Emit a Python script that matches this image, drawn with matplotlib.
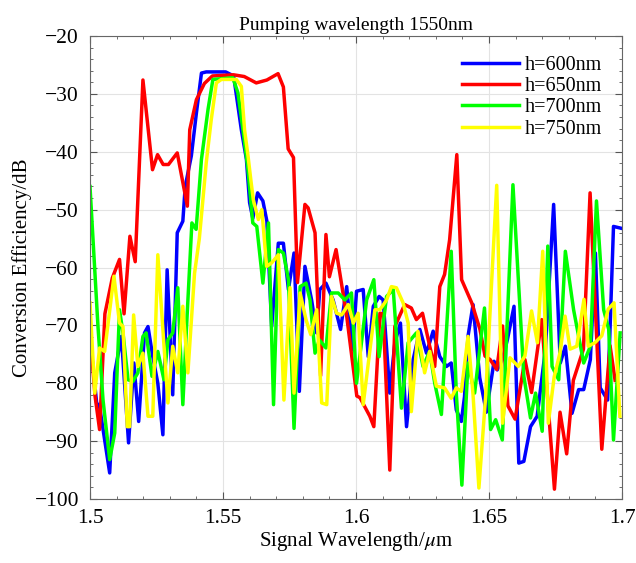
import matplotlib
matplotlib.use('Agg')
import matplotlib.pyplot as plt
from matplotlib.ticker import MultipleLocator

plt.rcParams['font.family'] = ['Liberation Serif', 'DejaVu Serif']
plt.rcParams['mathtext.fontset'] = 'stix'

# values, wavelength in um, efficiency in dB
x_600 = [1.500, 1.5025, 1.5036, 1.5074, 1.5093, 1.5118, 1.5145, 1.5165, 1.5183, 1.5205,
         1.5218, 1.5236, 1.5255, 1.5274, 1.529, 1.5311, 1.5328, 1.5349, 1.5358, 1.5381,
         1.540, 1.5419, 1.5437, 1.551, 1.554, 1.5569, 1.5588, 1.560, 1.5612, 1.563,
         1.565, 1.5665, 1.5683, 1.5708, 1.5727, 1.5746, 1.5767, 1.5787, 1.5808, 1.5833,
         1.5852, 1.5864, 1.5887, 1.5914, 1.5942, 1.5965, 1.5987, 1.6002, 1.6027, 1.6046,
         1.6065, 1.6087, 1.6102, 1.6127, 1.6146, 1.6167, 1.619, 1.6215, 1.624, 1.6265,
         1.629, 1.6315, 1.634, 1.6358, 1.6377, 1.6396, 1.6408, 1.6421, 1.644, 1.6465,
         1.649, 1.6519, 1.6531, 1.655, 1.6569, 1.6594, 1.6612, 1.6631, 1.6656, 1.6681,
         1.6712, 1.6743, 1.6768, 1.6787, 1.6812, 1.6837, 1.6856, 1.6881, 1.690, 1.6918,
         1.6946, 1.6968, 1.6995]
y_600 = [-72, -83.4, -84, -95.5, -78.2, -71.9, -90.3, -76.5, -86.6, -71.3,
         -70.2, -75.4, -80, -88.9, -60.4, -82, -54, -52, -46, -40.7,
         -33.3, -26.4, -26.2, -26.2, -26.9, -36.2, -41.3, -48.8, -51.5, -47.1,
         -48.5, -52, -70.2, -55.8, -55.8, -63.8, -57.5, -81.4, -59.8, -65.6,
         -71.3, -63.8, -62.7, -65.6, -70.7, -63.3, -74.2, -64.1, -63.8, -75.4,
         -66.7, -65, -65.6, -81.7, -73, -69.6, -87.5, -75.9, -70.7, -74.8,
         -71, -75.4, -77.1, -76.5, -84.6, -86.6, -82.3, -71.9, -66.4, -79,
         -85, -76.2, -77.7, -75.9, -72.5, -66.7, -93.8, -93.5, -87.5, -85.7,
         -74.2, -49.1, -76.5, -73.6, -85.2, -81.1, -81.1, -75.9, -57.5, -80.8,
         -82.9, -52.9, -53.2]

x_650 = [1.500, 1.5019, 1.5036, 1.5056, 1.5084, 1.5111, 1.5128, 1.515, 1.517, 1.5199,
         1.5235, 1.5254, 1.5275, 1.5295, 1.5328, 1.5366, 1.5375, 1.540, 1.543, 1.546,
         1.554, 1.558, 1.5625, 1.5665, 1.5707, 1.5727, 1.5745, 1.5765, 1.578, 1.5808,
         1.582, 1.5846, 1.5867, 1.5887, 1.590, 1.5925, 1.5965, 1.6003, 1.6015, 1.6052,
         1.6067, 1.609, 1.6102, 1.6127, 1.6146, 1.6183, 1.6208, 1.6227, 1.625, 1.6277,
         1.6296, 1.6315, 1.6333, 1.6352, 1.6379, 1.6397, 1.6435, 1.6466, 1.6485, 1.6504,
         1.6529, 1.6551, 1.6571, 1.6598, 1.6635, 1.666, 1.6698, 1.6746, 1.6767, 1.6792,
         1.6817, 1.6855, 1.688, 1.6924, 1.6955, 1.6974]
y_650 = [-71, -82.2, -88, -68, -61.8, -58.6, -68, -54.6, -59, -27.6,
         -43.1, -40.5, -42.2, -42.2, -40.2, -49.4, -36.2, -31, -28.2, -26.9,
         -26.7, -27, -28.1, -27.6, -26.5, -28.8, -39.5, -41, -62.6, -49.1,
         -49.7, -54, -78.7, -54.3, -61.6, -56.9, -68.4, -82.2, -82.5, -85.7,
         -87.5, -67.9, -68, -95, -70.2, -66.4, -67, -69, -67.9, -73.6,
         -77.1, -63.3, -61.2, -55.2, -40.5, -62.1, -66.1, -70.7, -75.3, -75.9,
         -77.6, -70.1, -83.9, -86.2, -75.9, -81.6, -69, -98.3, -85, -92.2,
         -79.5, -74.1, -47.1, -91.4, -73.5, -79.5]

x_700 = [1.500, 1.5005, 1.503, 1.5049, 1.5074, 1.5093, 1.5111, 1.5124, 1.5143, 1.5161,
         1.518, 1.5199, 1.5211, 1.5233, 1.5255, 1.5278, 1.5293, 1.5311, 1.533, 1.5349,
         1.5365, 1.5383, 1.5399, 1.5419, 1.5444, 1.5462, 1.5537, 1.5556, 1.5575, 1.5594,
         1.5612, 1.5627, 1.565, 1.5671, 1.569, 1.5708, 1.5727, 1.5746, 1.5767, 1.579,
         1.5812, 1.5827, 1.5846, 1.5862, 1.5887, 1.5908, 1.5933, 1.5958, 1.5983, 1.6002,
         1.604, 1.6067, 1.6087, 1.6115, 1.614, 1.6171, 1.6196, 1.6227, 1.6252, 1.6277,
         1.6296, 1.6321, 1.6358, 1.6377, 1.6398, 1.6421, 1.6446, 1.6483, 1.6506, 1.6525,
         1.655, 1.659, 1.6631, 1.6656, 1.6675, 1.670, 1.6721, 1.6737, 1.6762, 1.6787,
         1.6818, 1.6856, 1.6881, 1.6904, 1.6931, 1.695, 1.6968, 1.6993]
y_700 = [-46, -50, -70.2, -82.9, -93.2, -88.6, -67.3, -71.3, -79.4, -79.7,
         -78.2, -71.9, -71.3, -78.8, -74.5, -79.4, -72.5, -71.3, -63.5, -83.7,
         -68.4, -52.3, -53.4, -41.3, -32.6, -27.5, -27.2, -29.8, -36.2, -43.1,
         -52.3, -52.9, -62.7, -52.3, -83.7, -56.9, -57.5, -62.1, -87.8, -63.3,
         -62.7, -65.6, -74.8, -72.5, -73.9, -64.4, -64.4, -65.6, -64.4, -80,
         -65.6, -62.1, -75.4, -65, -63.8, -84.3, -73, -71.3, -77.1, -74.5,
         -80, -85.4, -57.2, -81.7, -97.6, -76.5, -81.7, -67, -88, -86.3,
         -89.8, -45.7, -78.8, -86, -81.7, -88.3, -56.3, -77.1, -79.4, -57.2,
         -67.3, -76.5, -73.6, -48.5, -67.3, -70.7, -89.8, -71.3]

x_750 = [1.500, 1.5018, 1.5036, 1.5055, 1.509, 1.5111, 1.5124, 1.514, 1.5149, 1.5164,
         1.518, 1.5199, 1.5218, 1.5236, 1.5255, 1.5274, 1.5293, 1.5311, 1.533, 1.5349,
         1.5368, 1.5393, 1.5411, 1.5425, 1.5437, 1.5456, 1.5475, 1.5494, 1.555, 1.5569,
         1.5581, 1.5594, 1.5605, 1.5614, 1.5633, 1.5646, 1.5664, 1.5683, 1.5708, 1.5729,
         1.5752, 1.5767, 1.579, 1.5812, 1.583, 1.5852, 1.5871, 1.589, 1.5908, 1.5927,
         1.5946, 1.5971, 1.599, 1.6008, 1.6027, 1.6071, 1.609, 1.6115, 1.6133, 1.6152,
         1.6177, 1.6196, 1.6208, 1.6233, 1.6258, 1.6277, 1.6302, 1.6333, 1.6358, 1.6377,
         1.6396, 1.6421, 1.644, 1.6462, 1.6487, 1.6529, 1.6551, 1.6579, 1.661, 1.6635,
         1.666, 1.6682, 1.6702, 1.6723, 1.6745, 1.6767, 1.6786, 1.6805, 1.683, 1.6857,
         1.6873, 1.6898, 1.6924, 1.6948, 1.697, 1.6992]
y_750 = [-66.1, -81.7, -73.9, -74.5, -61.5, -69.6, -70.2, -87.5, -87.5, -68.2,
         -77.1, -74.8, -85.7, -85.7, -57.8, -70.7, -83.4, -73.6, -78.2, -66.7,
         -78.2, -61, -55, -48, -41.9, -34.4, -28.1, -27.5, -27.5, -28.7,
         -36.2, -40.7, -45, -48.3, -51.7, -50, -59.8, -59.2, -57.8, -82.9,
         -63.5, -81.7, -64.4, -69, -71.6, -67.3, -83.4, -83.7, -65, -67.9,
         -68.2, -66.4, -69.6, -67.9, -83.7, -67.3, -67.3, -65.6, -63.3, -63.5,
         -66.1, -69.6, -84.9, -71, -78.2, -74.5, -80.5, -80.8, -82.6, -80.8,
         -81.4, -71.9, -82, -98.1, -82.5, -45.8, -86.9, -75.6, -77.1, -75.3,
         -67.5, -73, -57.2, -86.9, -78.9, -74.7, -68.4, -74.1, -73.6, -65.5,
         -73.6, -73, -71.8, -67.2, -66.1, -85.7]

fig = plt.figure(figsize=(6.36, 5.63), dpi=100)
ax = fig.add_axes([0.1415, 0.1137, 0.8365, 0.8223])

ax.plot(x_600, y_600, color='#0000ff', lw=2.5, label='h=600nm')
ax.plot(x_650, y_650, color='#ff0000', lw=2.5, label='h=650nm')
ax.plot(x_700, y_700, color='#00ff00', lw=2.5, label='h=700nm')
ax.plot(x_750, y_750, color='#ffff00', lw=2.5, label='h=750nm')

ax.set_xlim(1.5, 1.7)
ax.set_ylim(-100, -20)
ax.set_xticks([1.5, 1.55, 1.6, 1.65, 1.7])
ax.set_xticklabels(['1.5', '1.55', '1.6', '1.65', '1.7'])
ax.xaxis.set_minor_locator(MultipleLocator(0.01))
ax.yaxis.set_major_locator(MultipleLocator(10))
ax.yaxis.set_minor_locator(MultipleLocator(2))
ax.tick_params(which='both', direction='in', top=True, right=True, labelsize=15.5, color='#555555')
ax.tick_params(which='major', length=5)
ax.tick_params(which='minor', length=2.5)
ax.tick_params(axis='x', pad=7)
ax.tick_params(axis='y', pad=8)
ax.grid(True, which='major', color='#e3e3e3', lw=0.8)
for s in ax.spines.values():
    s.set_color('#666666')
    s.set_linewidth(0.8)

ax.set_xlabel(r'Signal Wavelength/$\mu$m', fontsize=15, labelpad=2)
ax.set_ylabel('Conversion Efficiency/dB', fontsize=15, labelpad=2)
ax.set_title('Pumping wavelength 1550nm', fontsize=14, pad=4)

ax.legend(loc='upper right', frameon=False, fontsize=14.5, handlelength=2.8,
          labelspacing=0.1, handletextpad=0.3, borderaxespad=0.6)

fig.savefig('out.png', dpi=100)
